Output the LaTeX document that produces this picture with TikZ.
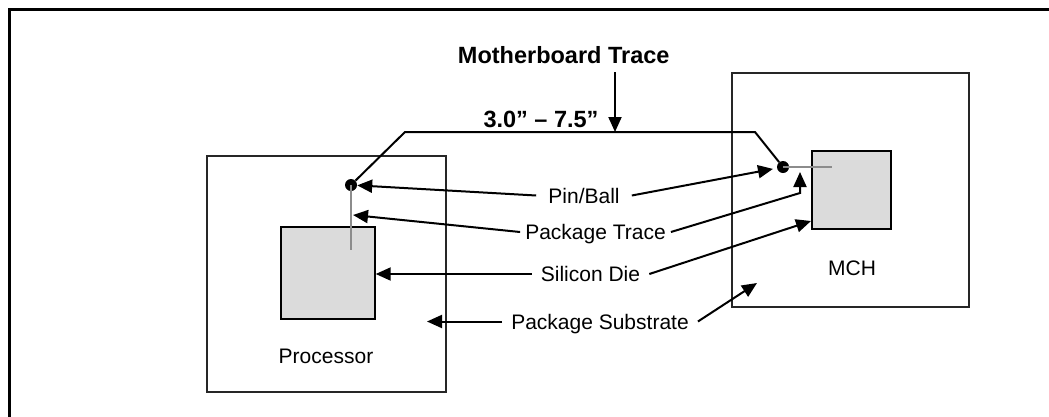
\documentclass[tikz,border=0pt]{standalone}
\usepackage{fontspec}
\setmainfont{Liberation Sans}
\usetikzlibrary{arrows.meta,calc}

\tikzset{
  frame/.style={line width=2.7pt},
  pkgbox/.style={draw=black!85, line width=1.3pt},
  diebox/.style={draw=black, line width=1.4pt, fill=black!14},
  ball/.style={circle, fill=black, inner sep=0pt, minimum size=12pt},
  pkgtrace/.style={draw=black!45, line width=2pt},
  mbtrace/.style={line width=2pt},
  lbl/.style={font=\fontsize{21}{25}\selectfont, text height=15.3pt, text depth=0pt, inner xsep=9pt, inner ysep=0pt},
  title/.style={font=\fontsize{23.5}{28}\selectfont\bfseries, text height=16.7pt, text depth=0pt, inner sep=0pt},
  ptr/.style={line width=2pt, -{Triangle[length=15pt,width=13pt]}},
}

\begin{document}
\begin{tikzpicture}[x=1pt, y=-1pt]
  \useasboundingbox (0,0) rectangle (1049,416);

  % outer frame (top and left edges)
  \draw[frame] (9.3,420) -- (9.3,9.3) -- (1052,9.3);

  % processor package and die
  \draw[pkgbox] (207,156) rectangle (446,392);
  \node[diebox, minimum width=94pt, minimum height=92pt, inner sep=0pt] (cpudie) at (328,273) {};
  \node[lbl, inner xsep=0pt] (cpulbl) at (326,355.5) {Processor};

  % MCH package and die
  \draw[pkgbox] (732,73) rectangle (969,307);
  \node[diebox, minimum width=79pt, minimum height=78pt, inner sep=0pt] (mchdie) at (851.5,190) {};
  \node[lbl, inner xsep=0pt] (mchlbl) at (852,268) {MCH};

  % package traces (grey)
  \coordinate (cputraceend) at (351,250);
  \coordinate (mchtraceend) at (832,167);
  \node[ball] (cpuball) at (351,185) {};
  \node[ball] (mchball) at (783,167) {};
  \draw[pkgtrace] (cpuball.center) -- (cputraceend);
  \draw[pkgtrace] (mchball.center) -- (mchtraceend);

  % motherboard trace
  \coordinate (mbA) at (405,132);
  \coordinate (mbB) at (755,132);
  \coordinate (mbmark) at (615,132);
  \draw[mbtrace] (cpuball) -- (mbA) -- (mbB) -- (mchball);

  % titles
  \node[title] (mbtitle) at (563.7,55) {Motherboard Trace};
  \node[title] (mblen) at (541,118.7) {3.0{\char34} -- 7.5{\char34}};
  \coordinate (mbtitlebot) at (615,72);
  \draw[ptr] (mbtitlebot) -- (mbmark);

  % callout labels
  \node[lbl, inner xsep=12pt] (pin) at (584,195.5) {Pin/Ball};
  \node[lbl, inner xsep=5pt] (ptrace) at (595.5,232) {Package Trace};
  \node[lbl] (sdie) at (590.5,274) {Silicon Die};
  \node[lbl] (subs) at (600,321.5) {Package Substrate};

  % callout targets
  \coordinate (cputracept) at (353,215);
  \coordinate (mchbend) at (800,193);
  \coordinate (mchtracept) at (800,172);
  \coordinate (mchdiept) at (811,221);
  \coordinate (cpusubpt) at (427,321.5);
  \coordinate (mchsubpt) at (757,283);

  % callout arrows
  \draw[ptr] (pin.west) -- (cpuball);
  \draw[ptr, shorten >=4pt] (pin.east) -- (mchball);
  \draw[ptr] (ptrace.west) -- (cputracept);
  \draw[ptr] (ptrace.east) -- (mchbend) -- (mchtracept);
  \draw[ptr] (sdie.west) -- (sdie.west -| cpudie.east);
  \draw[ptr] (sdie.east) -- (mchdiept);
  \draw[ptr] (subs.west) -- (cpusubpt);
  \draw[ptr] (subs.east) -- (mchsubpt);
\end{tikzpicture}
\end{document}
